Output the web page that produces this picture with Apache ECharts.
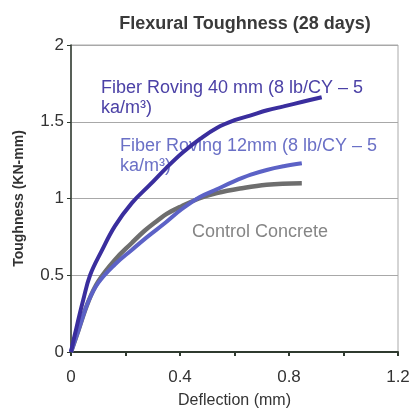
<!DOCTYPE html>
<html><head><meta charset="utf-8">
<script src="https://cdn.jsdelivr.net/npm/echarts@6/dist/echarts.min.js"></script>
<style>html,body{margin:0;padding:0;background:#fff}#c{width:411px;height:408px}</style>
</head><body><div id="c"></div>
<script>
const roving40 = [[0,0],[0.015,0.12],[0.045,0.34],[0.07,0.50],[0.113,0.66],[0.161,0.82],[0.223,0.97],[0.29,1.09],[0.35,1.20],[0.41,1.30],[0.475,1.39],[0.535,1.46],[0.60,1.51],[0.657,1.54],[0.72,1.575],[0.78,1.60],[0.85,1.63],[0.92,1.66]];
const roving12 = [[0,0],[0.027,0.14],[0.064,0.33],[0.10,0.45],[0.161,0.57],[0.223,0.665],[0.28,0.75],[0.345,0.84],[0.406,0.93],[0.473,1.01],[0.535,1.06],[0.596,1.11],[0.66,1.155],[0.718,1.186],[0.78,1.21],[0.847,1.23]];
const control = [[0,0],[0.027,0.14],[0.064,0.33],[0.10,0.46],[0.161,0.60],[0.223,0.71],[0.27,0.79],[0.32,0.86],[0.351,0.90],[0.406,0.95],[0.47,1.0],[0.535,1.035],[0.62,1.065],[0.718,1.09],[0.847,1.10]];
const seriesNames = ['Fiber Roving 40 mm','Fiber Roving 12mm','Control Concrete'];
const chart = echarts.init(document.getElementById('c'));
const F = 'Arial, "Liberation Sans", sans-serif';
chart.setOption({
  animation:false,
  title:{text:'Flexural Toughness (28 days)',left:240,top:10,textAlign:'center',
    textStyle:{fontFamily:F,fontSize:18,fontWeight:'bold',color:'#3a3a3a'}},
  grid:{left:71,right:13,top:45,bottom:56,containLabel:false,outerBoundsMode:'none',show:true,borderColor:'#aaa',borderWidth:1},
  xAxis:{type:'value',min:0,max:1.2,interval:0.2,
    name:'Deflection (mm)',nameLocation:'middle',nameGap:41,
    nameTextStyle:{fontFamily:F,fontSize:16,color:'#333'},
    axisLine:{show:true,lineStyle:{color:'#2f3a2f',width:2}},
    axisTick:{show:true,length:4,lineStyle:{color:'#2f3a2f',width:2}},
    axisLabel:{fontFamily:F,fontSize:17,color:'#333',margin:17,
      formatter:v=>{const r=Math.round(v*10)/10; return (Math.round(r*10)%4===0)?String(r):'';}},
    splitLine:{show:false}},
  yAxis:{type:'value',min:0,max:2,interval:0.5,
    name:'Toughness (KN-mm)',nameLocation:'middle',nameGap:45,nameRotate:90,
    nameTextStyle:{fontFamily:F,fontSize:14,fontWeight:'bold',color:'#333'},
    axisLine:{show:true,lineStyle:{color:'#2f3a2f',width:1.5}},
    axisTick:{show:true,length:4,lineStyle:{color:'#2f3a2f'}},
    axisLabel:{fontFamily:F,fontSize:17,color:'#333',margin:7},
    splitLine:{show:true,lineStyle:{color:'#a8a8a8',width:1}}},
  series:[
    {name:seriesNames[2],type:'line',data:control,smooth:0.4,symbol:'none',z:2,
      lineStyle:{color:'#6e6e6e',width:4.5}},
    {name:seriesNames[1],type:'line',data:roving12,smooth:0.4,symbol:'none',z:3,
      lineStyle:{color:'#5c62c6',width:4}},
    {name:seriesNames[0],type:'line',data:roving40,smooth:0.4,symbol:'none',z:4,
      lineStyle:{color:'#3a2e9e',width:4}}
  ],
  graphic:[
    {type:'text',left:101,top:78,style:{text:'Fiber Roving 40 mm (8 lb/CY – 5\nka/m³)',fontFamily:F,fontSize:18,lineHeight:20,fill:'#4b41a6'}},
    {type:'text',left:120,top:136,style:{text:'Fiber Roving 12mm (8 lb/CY – 5\nka/m³)',fontFamily:F,fontSize:18,lineHeight:20,fill:'#6a70c6'}},
    {type:'text',left:192,top:223,style:{text:'Control Concrete',fontFamily:F,fontSize:18,fill:'#858585'}}
  ]
});
</script></body></html>
